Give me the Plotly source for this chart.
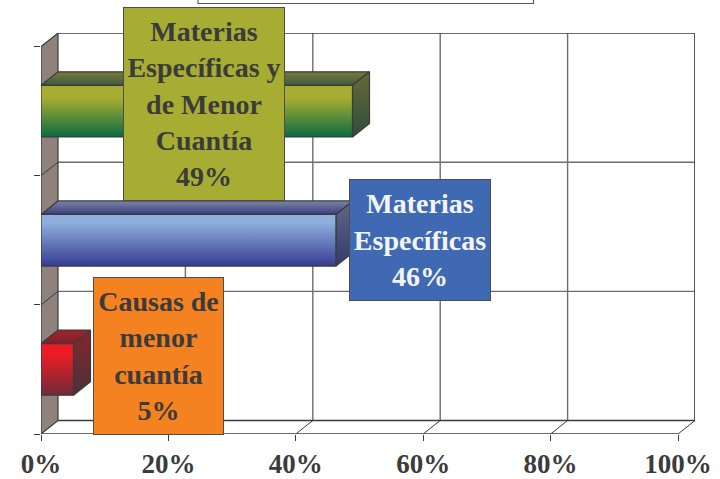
import plotly.graph_objects as go

# valores
categorias = ['Causas de menor cuantía', 'Materias Específicas', 'Materias Específicas y de Menor Cuantía']
valores = [5.1, 46.3, 48.9]
etiquetas = ['Causas de<br>menor<br>cuantía<br>5%',
             'Materias<br>Específicas<br>46%',
             'Materias<br>Específicas y<br>de Menor<br>Cuantía<br>49%']
ticks_x = [0, 20, 40, 60, 80, 100]
ticks_y = [0, 1, 2, 3]
textos_x = ['0%', '20%', '40%', '60%', '80%', '100%']

# degradados de cada barra: frente, tapa y lateral (de abajo hacia arriba)
frente = [[[0, '#6e2c3a'], [0.8, '#ed1c24'], [1, '#ed1c24']],
          [[0, '#363c92'], [0.85, '#8fb0de'], [1, '#8fb0de']],
          [[0, '#0b6b43'], [0.75, '#a6ad32'], [1, '#a6ad32']]]
tapa = [[[0, '#7e1f28'], [1, '#a3242c']],
        [[0, '#3b3d80'], [1, '#7a85a5']],
        [[0, '#3c5c3a'], [1, '#7a7a40']]]
lateral = [[[0, '#4a3238'], [1, '#84262e']],
           [[0, '#333a6f'], [1, '#62677f']],
           [[0, '#2f4d38'], [1, '#67693a']]]

# tamaños en pixeles de la figura
ancho, alto = 720, 479
m_izq, m_der, m_sup, m_inf = 41, 25, 33, 45
px_x = 6.37
px_y = (alto - m_sup - m_inf) / 3.105
prof_x = 17 / px_x     # profundidad del efecto 3D
prof_y = 13.5 / px_y
medio = 0.2            # media altura de la barra

OSCURO = '#3b3b3b'
GRIS = '#6e6e6e'


def x_dato(px):
    return (px - m_izq) / px_x


def y_dato(px):
    return (alto - m_inf - px) / px_y


def linea(xs, ys, color=GRIS, ancho_l=1.4):
    return go.Scatter(x=xs, y=ys, mode='lines', line=dict(color=color, width=ancho_l),
                      cliponaxis=False, showlegend=False, hoverinfo='skip')


def cara(xs, ys, escala=None, relleno=None):
    datos = dict(x=xs, y=ys, mode='lines', fill='toself', line=dict(color=OSCURO, width=1.2),
                 cliponaxis=False, showlegend=False, hoverinfo='skip')
    if escala:
        datos['fillgradient'] = dict(type='vertical', colorscale=escala)
    else:
        datos['fillcolor'] = relleno
    return go.Scatter(**datos)


fig = go.Figure()

# pared del fondo
for v in ticks_x[1:]:
    fig.add_trace(linea([v + prof_x, v + prof_x], [prof_y, 3 + prof_y]))
    fig.add_trace(linea([v, v + prof_x], [0, prof_y], OSCURO, 1))
for t in ticks_y:
    fig.add_trace(linea([prof_x, 100 + prof_x], [t + prof_y, t + prof_y], OSCURO if t in (0, 3) else GRIS))
fig.add_trace(linea([100 + prof_x, 100 + prof_x], [prof_y, 3 + prof_y], OSCURO))

# pared izquierda y piso
fig.add_trace(cara([0, prof_x, prof_x, 0, 0], [0, prof_y, 3 + prof_y, 3, 0], relleno='#8f827c'))
for t in ticks_y[1:-1]:
    fig.add_trace(linea([0, prof_x], [t, t + prof_y], OSCURO, 1))
fig.add_trace(linea([0, 100], [0, 0], OSCURO, 1.4))

# barras
for i, (cat, v) in enumerate(zip(categorias, valores)):
    c = i + 0.5
    fig.add_trace(cara([0, prof_x, v + prof_x, v, 0],
                       [c + medio, c + medio + prof_y, c + medio + prof_y, c + medio, c + medio], tapa[i]))
    fig.add_trace(cara([v, v + prof_x, v + prof_x, v, v],
                       [c - medio, c - medio + prof_y, c + medio + prof_y, c + medio, c - medio], lateral[i]))
    fig.add_trace(cara([0, v, v, 0, 0], [c - medio, c - medio, c + medio, c + medio, c - medio], frente[i]))

# cajas con las etiquetas: (x0, y0, x1, y1) en pixeles
cajas = [(93, 277, 224, 435), (349, 179, 491, 301), (123, 7, 285, 201)]
fondos = ['#f58220', '#3f6ab3', '#a6ad32']
letras = ['#3b3b3b', '#f4f4f4', '#3b3b3b']
for texto, caja, fondo, letra in zip(etiquetas, cajas, fondos, letras):
    x0, y0, x1, y1 = caja
    fig.add_annotation(x=x_dato((x0 + x1) / 2), y=y_dato((y0 + y1) / 2), xref='x', yref='y',
                       text='<b>' + texto + '</b>', showarrow=False, align='center', valign='middle',
                       width=x1 - x0 - 2, height=y1 - y0 - 2, bgcolor=fondo, bordercolor='#4d4d4d',
                       borderwidth=1, borderpad=0,
                       font=dict(family='Liberation Serif', size=28, color=letra))

# caja de la leyenda cortada arriba
fig.add_shape(type='rect', xref='paper', yref='paper',
              x0=(198 - m_izq) / (ancho - m_izq - m_der), x1=(533.5 - m_izq) / (ancho - m_izq - m_der),
              y0=(alto - m_inf - 3.5) / (alto - m_sup - m_inf), y1=(alto - m_inf + 5) / (alto - m_sup - m_inf),
              line=dict(color='#5a5a5a', width=1.2), fillcolor='white')

fig.update_layout(width=ancho, height=alto, autosize=False,
                  margin=dict(l=m_izq, r=m_der, t=m_sup, b=m_inf, pad=0),
                  paper_bgcolor='white', plot_bgcolor='white', showlegend=False,
                  xaxis=dict(range=[0, 654 / px_x], tickmode='array', tickvals=ticks_x, ticktext=textos_x,
                             ticks='outside', ticklen=6, tickcolor=OSCURO, showgrid=False, zeroline=False,
                             showline=False, automargin=False,
                             tickfont=dict(family='Liberation Serif', size=27, color='#3b3b3b', weight='bold')),
                  yaxis=dict(range=[0, 3.105], tickmode='array', tickvals=ticks_y, ticktext=['', '', '', ''],
                             ticks='outside', ticklen=6, tickcolor=OSCURO, showgrid=False, zeroline=False,
                             showline=False, automargin=False))

# la pagina trae margen propio en el body
fig.write_html("out.html", config={'displayModeBar': False}, post_script="document.body.style.margin = '0';")
